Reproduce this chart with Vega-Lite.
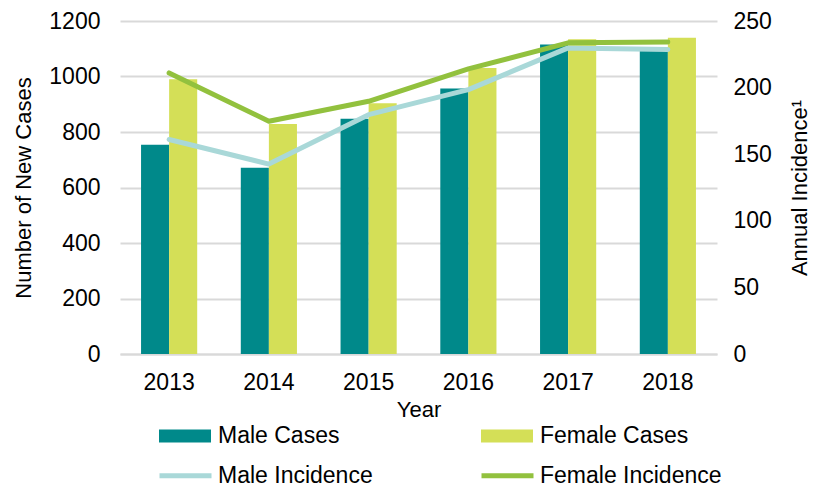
{
  "$schema": "https://vega.github.io/schema/vega-lite/v6.json",
  "width": 597,
  "height": 333,
  "autosize": "none",
  "padding": {"left": 120, "top": 21, "right": 103, "bottom": 133},
  "background": "white",
  "config": {
    "font": "Liberation Sans",
    "view": {"stroke": null},
    "axis": {"labelColor": "#000000", "titleColor": "#000000", "titleFontWeight": "normal", "labelFontSize": 23, "titleFontSize": 22, "ticks": false, "domain": false, "grid": false},
    "legend": {"labelFontSize": 23, "labelColor": "#000000", "labelOffset": 7, "labelLimit": 400}
  },
  "data": {
    "values": [
      {"year": "2013", "series": "Male Cases", "kind": "cases", "value": 754},
      {"year": "2014", "series": "Male Cases", "kind": "cases", "value": 671},
      {"year": "2015", "series": "Male Cases", "kind": "cases", "value": 848},
      {"year": "2016", "series": "Male Cases", "kind": "cases", "value": 957},
      {"year": "2017", "series": "Male Cases", "kind": "cases", "value": 1115},
      {"year": "2018", "series": "Male Cases", "kind": "cases", "value": 1095},
      {"year": "2013", "series": "Female Cases", "kind": "cases", "value": 990},
      {"year": "2014", "series": "Female Cases", "kind": "cases", "value": 829},
      {"year": "2015", "series": "Female Cases", "kind": "cases", "value": 904},
      {"year": "2016", "series": "Female Cases", "kind": "cases", "value": 1031},
      {"year": "2017", "series": "Female Cases", "kind": "cases", "value": 1134},
      {"year": "2018", "series": "Female Cases", "kind": "cases", "value": 1140},
      {"year": "2013", "series": "Male Incidence", "kind": "incidence", "value": 161},
      {"year": "2014", "series": "Male Incidence", "kind": "incidence", "value": 142.6},
      {"year": "2015", "series": "Male Incidence", "kind": "incidence", "value": 179.7},
      {"year": "2016", "series": "Male Incidence", "kind": "incidence", "value": 198.5},
      {"year": "2017", "series": "Male Incidence", "kind": "incidence", "value": 229.8},
      {"year": "2018", "series": "Male Incidence", "kind": "incidence", "value": 228.6},
      {"year": "2013", "series": "Female Incidence", "kind": "incidence", "value": 211},
      {"year": "2014", "series": "Female Incidence", "kind": "incidence", "value": 174.7},
      {"year": "2015", "series": "Female Incidence", "kind": "incidence", "value": 189.7},
      {"year": "2016", "series": "Female Incidence", "kind": "incidence", "value": 214},
      {"year": "2017", "series": "Female Incidence", "kind": "incidence", "value": 233.6},
      {"year": "2018", "series": "Female Incidence", "kind": "incidence", "value": 234.3}
    ]
  },
  "encoding": {
    "x": {
      "field": "year", "type": "nominal",
      "scale": {"paddingInner": 0.437, "paddingOuter": 0.211},
      "axis": {"title": "Year", "labelAngle": 0, "labelPadding": 17, "titlePadding": 5, "domain": true, "domainColor": "#D9D9D9", "domainWidth": 2}
    }
  },
  "layer": [
    {
      "transform": [{"filter": "datum.kind == 'cases'"}],
      "mark": {"type": "bar"},
      "encoding": {
        "xOffset": {"field": "series", "type": "nominal", "sort": ["Male Cases", "Female Cases"]},
        "y": {
          "field": "value", "type": "quantitative",
          "scale": {"domain": [0, 1200], "nice": false},
          "axis": {"title": "Number of New Cases", "format": "d", "values": [0, 200, 400, 600, 800, 1000, 1200], "grid": true, "gridColor": "#D9D9D9", "gridWidth": 2, "labelPadding": 20, "titlePadding": 13}
        },
        "fill": {
          "field": "series", "type": "nominal",
          "scale": {"domain": ["Male Cases", "Female Cases"], "range": ["#00898A", "#D4DF57"]},
          "legend": {"title": null, "orient": "none", "legendX": 39, "legendY": 389, "columns": 2, "columnPadding": 141, "symbolType": "M-1,-0.25H1V0.25H-1Z", "symbolSize": 2704, "symbolStrokeWidth": 0, "symbolOpacity": 1}
        }
      }
    },
    {
      "transform": [{"filter": "datum.kind == 'incidence'"}],
      "mark": {"type": "line", "strokeWidth": 5, "strokeCap": "round", "strokeJoin": "round"},
      "encoding": {
        "y": {
          "field": "value", "type": "quantitative",
          "scale": {"domain": [0, 250], "nice": false},
          "axis": {"orient": "right", "title": "Annual Incidence¹", "titleAngle": 270, "values": [0, 50, 100, 150, 200, 250], "labelPadding": 16, "titlePadding": 40}
        },
        "stroke": {
          "field": "series", "type": "nominal",
          "scale": {"domain": ["Male Incidence", "Female Incidence"], "range": ["#A9D8D8", "#92C13E"]},
          "legend": {"title": null, "orient": "none", "legendX": 37, "legendY": 426, "columns": 2, "columnPadding": 98, "labelOffset": 4, "symbolType": "stroke", "symbolSize": 2704, "symbolStrokeWidth": 5}
        }
      }
    }
  ],
  "resolve": {"scale": {"y": "independent", "fill": "independent", "stroke": "independent"}}
}
